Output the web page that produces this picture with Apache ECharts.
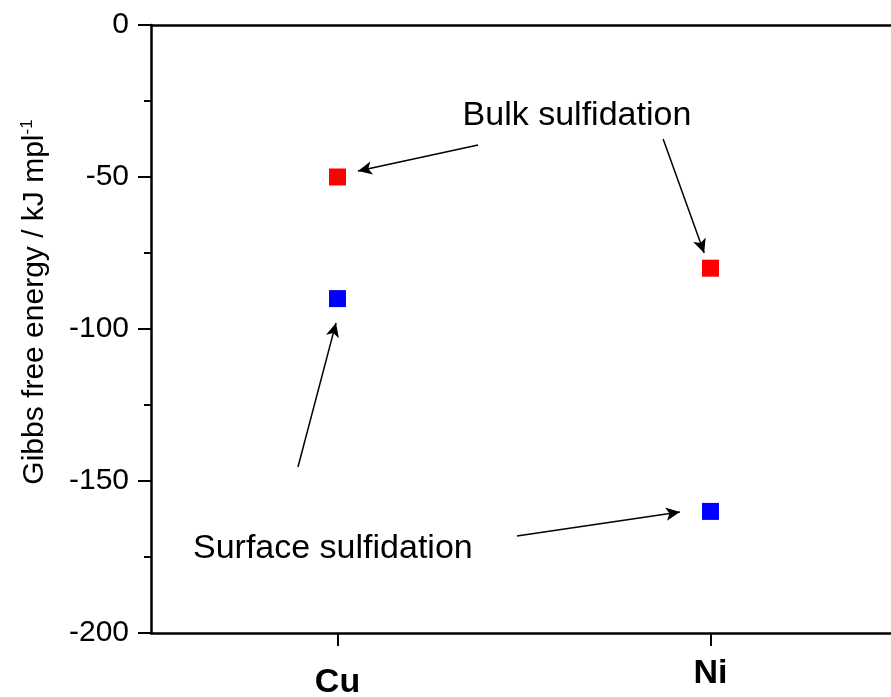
<!DOCTYPE html>
<html>
<head>
<meta charset="utf-8">
<script src="https://cdn.jsdelivr.net/npm/echarts@6/dist/echarts.min.js"></script>
<style>
  html, body { margin: 0; padding: 0; background: #fff; }
  #chart { width: 891px; height: 697px; }
</style>
</head>
<body>
<div id="chart"></div>
<script>
const categories = ['Cu', 'Ni'];
const bulkValues = [-50, -80];
const surfaceValues = [-90, -160];
const yTicks = { min: -200, max: 0, interval: 50 };

// annotation arrows, in data units (x: 0 = Cu, 1 = Ni)
const bulkArrows = [
  [[0.377, -39.5], [0.055, -48.0]],
  [[0.873, -37.5], [0.983, -75.0]]
];
const surfaceArrows = [
  [[-0.106, -145.4], [-0.004, -98.0]],
  [[0.481, -168.1], [0.918, -160.2]]
];
const notes = [
  { name: 'Bulk sulfidation', coord: [0.642, -29.9] },
  { name: 'Surface sulfidation', coord: [-0.0125, -172.2] }
];

const font = 'Liberation Sans, Arial, sans-serif';
const chart = echarts.init(document.getElementById('chart'));

const arrowLines = bulkArrows.concat(surfaceArrows).map(a => [
  { coord: a[0] },
  { coord: a[1] }
]);

chart.setOption({
  animation: false,
  backgroundColor: '#fff',
  grid: { left: 151, top: 25, width: 746, height: 608, outerBoundsMode: 'none', containLabel: false },
  xAxis: [
    {
      type: 'category',
      data: categories,
      boundaryGap: true,
      axisLine: { onZero: false, lineStyle: { color: '#000', width: 2.5 } },
      axisTick: { show: true, interval: 0, alignWithLabel: true, length: 13, lineStyle: { color: '#000', width: 2 } },
      axisLabel: {
        margin: 24,
        interval: 0,
        formatter: v => v === 'Cu' ? '{cu|Cu}' : '{ni|Ni}',
        rich: {
          cu: { fontFamily: font, fontWeight: 'bold', fontSize: 34, color: '#000', padding: [9, 0, 0, 0] },
          ni: { fontFamily: font, fontWeight: 'bold', fontSize: 34, color: '#000' }
        }
      },
      splitLine: { show: false }
    },
    {
      type: 'value',
      position: 'top',
      min: -0.5,
      max: 1.5,
      axisLine: { show: true, onZero: false, lineStyle: { color: '#000', width: 2.5 } },
      axisTick: { show: false },
      axisLabel: { show: false },
      splitLine: { show: false }
    }
  ],
  yAxis: {
    type: 'value',
    min: yTicks.min,
    max: yTicks.max,
    interval: yTicks.interval,
    name: '{t|Gibbs free energy / kJ mpl}{s|-1}',
    nameLocation: 'middle',
    nameGap: 100,
    nameTextStyle: {
      padding: [0, 0, 0, 54],
      rich: {
        t: { fontFamily: font, fontSize: 30, color: '#000', lineHeight: 32 },
        s: { fontFamily: font, fontSize: 17, color: '#000', verticalAlign: 'top', lineHeight: 32 }
      }
    },
    axisLine: { show: true, onZero: false, lineStyle: { color: '#000', width: 2.5 } },
    axisTick: { length: 13, lineStyle: { color: '#000', width: 2 } },
    minorTick: { show: true, splitNumber: 2, length: 7, lineStyle: { color: '#000', width: 2 } },
    axisLabel: { margin: 22, fontFamily: font, fontSize: 30, color: '#000' },
    splitLine: { show: false }
  },
  series: [
    {
      name: 'Bulk sulfidation',
      type: 'scatter',
      symbol: 'rect',
      symbolSize: 17,
      itemStyle: { color: '#ff0000', opacity: 1 },
      data: bulkValues,
      silent: true
    },
    {
      name: 'Surface sulfidation',
      type: 'scatter',
      symbol: 'rect',
      symbolSize: 17,
      itemStyle: { color: '#0000ff', opacity: 1 },
      data: surfaceValues,
      silent: true
    },
    {
      name: 'notes',
      type: 'scatter',
      xAxisIndex: 1,
      data: [],
      silent: true,
      markLine: {
        silent: true,
        symbol: ['none', 'arrow'],
        symbolSize: [10, 14],
        label: { show: false },
        lineStyle: { color: '#000', width: 1.5, type: 'solid' },
        itemStyle: { color: '#000' },
        data: arrowLines
      },
      markPoint: {
        silent: true,
        symbol: 'circle',
        symbolSize: 0,
        label: {
          show: true,
          position: 'inside',
          formatter: '{b}',
          fontFamily: font,
          fontSize: 34,
          color: '#000'
        },
        data: notes
      }
    }
  ]
});
</script>
</body>
</html>
